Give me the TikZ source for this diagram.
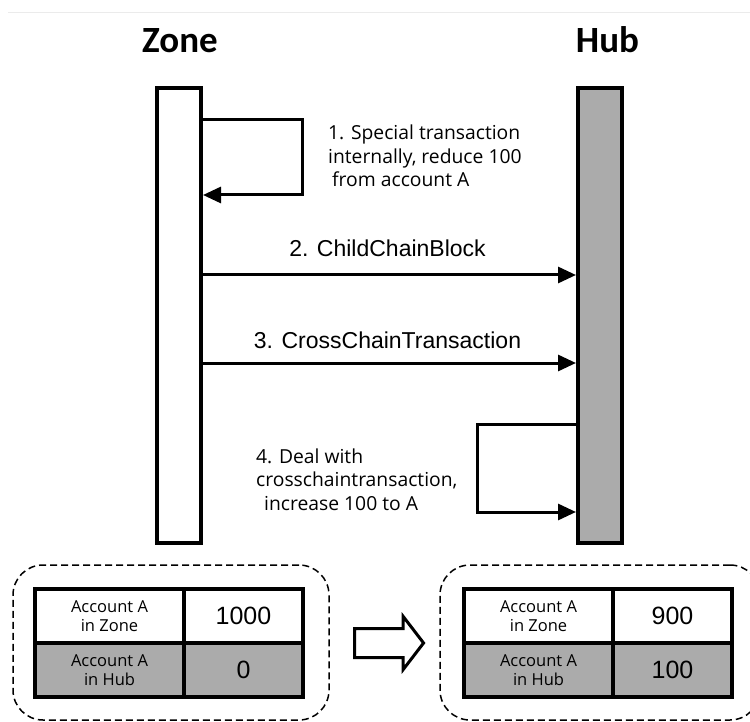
\documentclass[tikz,border=0pt]{standalone}
\usepackage{fontspec}
\usepackage{tikz}
\usetikzlibrary{arrows.meta,positioning,shapes.arrows}

\newfontfamily\calibrifont{Carlito}
\newfontfamily\segoefont{Open Sans}
\newfontfamily\arialfont{Liberation Sans}
\definecolor{hubgray}{HTML}{ABABAB}
\definecolor{rulegray}{HTML}{EBEBEB}

\begin{document}
\begin{tikzpicture}[
	x = 1pt, y = -1pt, % pixel grid, origin top left
	> = {Triangle[length=18pt, width=16pt]}, % arrow head style
	shorten > = 0pt, % tip touches the lifeline
	T/.style={font=\calibrifont\bfseries\fontsize{37}{40}\selectfont, anchor=base, inner sep=0pt},
	L/.style={draw=black, line width=4pt, minimum width=44pt, minimum height=455pt, inner sep=0pt},
	msg/.style={->, line width=3pt},
	note/.style={font=\segoefont\fontsize{19.3}{23.5}\selectfont, align=left, anchor=north west, inner sep=0pt},
	lab/.style={font=\arialfont\fontsize{23}{26}\selectfont, anchor=base, inner sep=0pt},
	cell/.style={draw=black, line width=4pt, outer sep=0pt, minimum height=54pt, inner sep=0pt},
	K/.style={cell, minimum width=149pt, align=center, font=\segoefont\fontsize{16.5}{18.5}\selectfont},  %key column
	V/.style={cell, minimum width=119pt, font=\arialfont\fontsize{25}{28}\selectfont},                   %value column
	box/.style={draw=black, line width=1.5pt, dash pattern=on 7pt off 4pt, rounded corners=30pt, minimum height=155pt, inner sep=0pt},
	]
	\useasboundingbox (0,0) rectangle (750,722);
	\draw[rulegray, line width=1pt] (8,13) -- (750,13);

	% Lifelines and titles
	\node[L, fill=white] (zone) at (179,315.5) {};
	\node[L, fill=hubgray] (hub) at (600,315.5) {};
	\node[T] (zonetitle) at (180,53) {Zone};
	\node[T] (hubtitle) at (607.5,53) {Hub};

	% Message levels
	\coordinate (m1a) at (0,120);
	\coordinate (m1b) at (302,195);
	\coordinate (m2) at (0,275);
	\coordinate (m3) at (0,363);
	\coordinate (m4a) at (0,424);
	\coordinate (m4b) at (477,512);

	% Messages
	\draw[msg] (zone.east |- m1a) -| (m1b) -- (zone.east |- m1b);
	\draw[msg] (zone.east |- m2) -- node[lab, yshift=18pt, xshift=-2pt] (l2) {2. ChildChainBlock} (hub.west |- m2);
	\draw[msg] (zone.east |- m3) -- node[lab, yshift=15pt, xshift=-2pt] (l3) {3. CrossChainTransaction} (hub.west |- m3);
	\draw[msg] (hub.west |- m4a) -| (m4b) -- (hub.west |- m4b);

	\node[note] (n1) at (328,125) {1. Special transaction\\internally, reduce 100\\\hspace*{4pt}from account A};
	\node[note] (n4) at (256,448.5) {4. Deal with\\crosschaintransaction,\\\hspace*{8pt}increase 100 to A};

	% Account states
	\node[box, minimum width=316pt] (before) at (171,642.5) {};
	\node[box, minimum width=320pt] (after) at (600,642.5) {};

	\node[K] (za) at (109.5,616) {Account A\\in Zone};
	\node[V, right=0pt of za] (zb) {1000};
	\node[K, fill=hubgray, below=0pt of za] (zc) {Account A\\in Hub};
	\node[V, fill=hubgray, right=0pt of zc] (zd) {0};

	\node[K] (ha) at (538.5,616) {Account A\\in Zone};
	\node[V, right=0pt of ha] (hb) {900};
	\node[K, fill=hubgray, below=0pt of ha] (hc) {Account A\\in Hub};
	\node[V, fill=hubgray, right=0pt of hc] (hd) {100};

	\node[single arrow, draw=black, line width=3pt, fill=white, minimum height=69pt, single arrow head extend=12pt, single arrow tip angle=105, inner sep=13pt] (shift) at (383.5,643) {};

\end{tikzpicture}
\end{document}
